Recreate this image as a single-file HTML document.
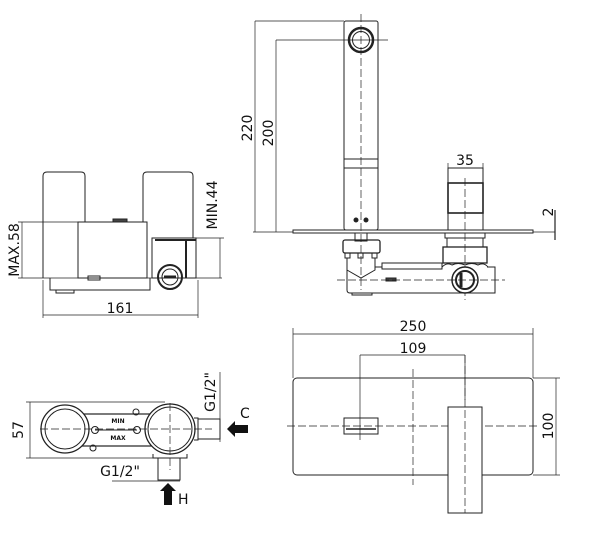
<!DOCTYPE html>
<html><head><meta charset="utf-8"><style>
html,body{margin:0;padding:0;background:#fff}
svg{display:block}
text{font-family:"DejaVu Sans","Liberation Sans",sans-serif;fill:#111}
</style></head><body>
<svg width="605" height="537" viewBox="0 0 605 537" xmlns="http://www.w3.org/2000/svg" fill="none" stroke="#222" stroke-width="1">
<!-- TOP LEFT VIEW -->
<g>
<path d="M43,278 V176 Q43,172 47,172 H81 Q85,172 85,176 V222"/>
<path d="M143,222 V176 Q143,172 147,172 H189 Q193,172 193,176 V238"/>
<rect x="78" y="222" width="69" height="56"/>
<rect x="113" y="219" width="14" height="3" fill="#444"/>
<rect x="152" y="238" width="44" height="40"/>
<line x1="155" y1="240" x2="196" y2="240" stroke-width="2"/>
<line x1="186" y1="240" x2="186" y2="278" stroke-width="2"/>
<circle cx="170" cy="277" r="12" stroke-width="2"/>
<circle cx="170" cy="277" r="8"/>
<line x1="164" y1="277" x2="176" y2="277" stroke-width="3"/>
<path d="M50,278 V290 H150 V278"/>
<rect x="56" y="290" width="18" height="3"/>
<rect x="88" y="276" width="12" height="4"/>
<line x1="18" y1="222" x2="78" y2="222" stroke-width=".7"/>
<line x1="18" y1="278" x2="222" y2="278" stroke-width=".7"/>
<line x1="22" y1="222" x2="22" y2="278" stroke-width=".7"/>
<line x1="196" y1="238" x2="224" y2="238" stroke-width=".7"/>
<line x1="220" y1="238" x2="220" y2="278" stroke-width=".7"/>
<line x1="43" y1="280" x2="43" y2="318" stroke-width=".7"/>
<line x1="198" y1="280" x2="198" y2="318" stroke-width=".7"/>
<line x1="43" y1="315" x2="198" y2="315" stroke-width=".7"/>
<text x="120" y="313" font-size="14" text-anchor="middle" stroke="none">161</text>
<text transform="translate(19,250) rotate(-90)" font-size="14" text-anchor="middle" stroke="none">MAX.58</text>
<text transform="translate(217,205) rotate(-90)" font-size="14" text-anchor="middle" stroke="none">MIN.44</text>
</g>
<!-- TOP RIGHT VIEW -->
<g>
<rect x="344" y="21" width="34" height="209" rx="2"/>
<line x1="344" y1="159" x2="378" y2="159"/>
<line x1="344" y1="168" x2="378" y2="168"/>
<circle cx="361" cy="40" r="12" stroke-width="2.5"/>
<circle cx="361" cy="40" r="8.5"/>
<circle cx="356" cy="220" r="2" fill="#222"/>
<circle cx="366" cy="220" r="2" fill="#222"/>
<line x1="361" y1="14" x2="361" y2="290" stroke-dasharray="8,3" stroke-width=".7"/>
<line x1="255" y1="21" x2="344" y2="21" stroke-width=".7"/>
<line x1="276" y1="40" x2="388" y2="40" stroke-width=".7"/>
<line x1="255" y1="21" x2="255" y2="232" stroke-width=".7"/>
<line x1="276" y1="40" x2="276" y2="232" stroke-width=".7"/>
<line x1="253" y1="232" x2="293" y2="232" stroke-width=".7"/>
<rect x="293" y="230" width="240" height="3"/>
<line x1="533" y1="232" x2="555" y2="232" stroke-width=".7"/>
<line x1="555" y1="210" x2="555" y2="240" stroke-width="1.2"/>
<text transform="translate(252,128) rotate(-90)" font-size="14" text-anchor="middle" stroke="none">220</text>
<text transform="translate(273,133) rotate(-90)" font-size="14" text-anchor="middle" stroke="none">200</text>
<text transform="translate(553,212) rotate(-90)" font-size="14" text-anchor="middle" stroke="none">2</text>
<rect x="448" y="168" width="35" height="62"/>
<rect x="448" y="183" width="35" height="30" stroke-width="1.6"/>
<line x1="448" y1="163" x2="448" y2="168" stroke-width=".7"/>
<line x1="483" y1="163" x2="483" y2="168" stroke-width=".7"/>
<line x1="448" y1="168" x2="483" y2="168" stroke-width=".7"/>
<text x="465" y="165" font-size="14" text-anchor="middle" stroke="none">35</text>
<line x1="465" y1="178" x2="465" y2="300" stroke-dasharray="8,3" stroke-width=".7"/>
<!-- under-plate parts -->
<rect x="445" y="233" width="40" height="5"/>
<rect x="443" y="247" width="44" height="16" stroke-width="1.3"/>
<line x1="447" y1="238" x2="447" y2="247"/><line x1="483" y1="238" x2="483" y2="247"/>
<rect x="355" y="233" width="12" height="8"/>
<rect x="343" y="240" width="37" height="13" rx="2" stroke-width="1.3"/>
<rect x="345" y="253" width="5" height="5"/><rect x="358" y="253" width="5" height="5"/><rect x="372" y="253" width="5" height="5"/>
<path d="M347,258 V270 L361,278 L375,270 V258"/>
<path d="M347,270 V290 Q347,293 350,293 H495 V267 H487"/>
<path d="M375,270 V267 H382"/>
<rect x="382" y="263" width="60" height="6"/>
<path d="M442,267 Q447,262 452,265 Q458,262 465,265 Q472,262 478,265 Q484,262 488,267"/>
<circle cx="465" cy="280" r="13" stroke-width="1.5" fill="#fff"/>
<circle cx="465" cy="280" r="9" stroke-width="2"/>
<line x1="461" y1="273" x2="461" y2="287" stroke-width="3"/>
<rect x="352" y="293" width="20" height="2"/>
<rect x="386" y="278" width="10" height="3" fill="#444"/>
<line x1="337" y1="280" x2="505" y2="280" stroke-dasharray="8,3" stroke-width=".7"/>
</g>
<!-- BOTTOM LEFT VIEW -->
<g>
<line x1="26" y1="402" x2="165" y2="402" stroke-width=".7"/>
<line x1="26" y1="458" x2="185" y2="458" stroke-width=".7"/>
<line x1="30" y1="402" x2="30" y2="458" stroke-width=".7"/>
<text transform="translate(23,430) rotate(-90)" font-size="14" text-anchor="middle" stroke="none">57</text>
<rect x="80" y="414" width="85" height="32" stroke-width="1.2"/>
<circle cx="65" cy="429" r="24" fill="#fff" stroke-width="1.3"/>
<circle cx="65" cy="429" r="20"/>
<circle cx="170" cy="429" r="25" fill="#fff" stroke-width="1.3"/>
<circle cx="170" cy="429" r="22"/>
<circle cx="95" cy="430" r="3.5"/><circle cx="137" cy="430" r="3.5"/>
<circle cx="136" cy="412" r="3"/><circle cx="93" cy="448" r="3"/>
<line x1="95" y1="430" x2="137" y2="430"/>
<text x="118" y="423" font-size="6" font-weight="bold" text-anchor="middle" stroke="none">MIN</text>
<text x="118" y="440" font-size="6" font-weight="bold" text-anchor="middle" stroke="none">MAX</text>
<path d="M194,418 H198 V440 H194" /><rect x="198" y="419" width="22" height="20"/>
<line x1="40" y1="429" x2="212" y2="429" stroke-dasharray="8,3" stroke-width=".7"/>
<line x1="170" y1="403" x2="170" y2="470" stroke-dasharray="8,3" stroke-width=".7"/>
<line x1="220" y1="372" x2="220" y2="442" stroke-width=".7"/>
<text transform="translate(215,392) rotate(-90)" font-size="14" text-anchor="middle" stroke="none">G1/2"</text>
<polygon points="227,429 235,421 235,425 248,425 248,433 235,433 235,437" fill="#111" stroke="none"/>
<text x="240" y="418" font-size="14" stroke="none">C</text>
<path d="M153,454 V458 H187 V454"/>
<rect x="158" y="458" width="22" height="22"/>
<line x1="112" y1="481" x2="180" y2="481" stroke-width=".7"/>
<text x="120" y="476" font-size="14" text-anchor="middle" stroke="none">G1/2"</text>
<polygon points="168,483 176,491 172,491 172,505 164,505 164,491 160,491" fill="#111" stroke="none"/>
<text x="178" y="504" font-size="14" stroke="none">H</text>
</g>
<!-- BOTTOM RIGHT VIEW -->
<g>
<line x1="293" y1="328" x2="293" y2="378" stroke-width=".7"/>
<line x1="533" y1="328" x2="533" y2="378" stroke-width=".7"/>
<line x1="293" y1="334" x2="533" y2="334" stroke-width=".7"/>
<text x="413" y="331" font-size="14" text-anchor="middle" stroke="none">250</text>
<line x1="360" y1="355" x2="465" y2="355" stroke-width=".7"/>
<text x="413" y="353" font-size="14" text-anchor="middle" stroke="none">109</text>
<rect x="293" y="378" width="240" height="97" rx="4"/>
<line x1="413" y1="369" x2="413" y2="485" stroke-dasharray="8,3" stroke-width=".7"/>
<line x1="287" y1="426" x2="540" y2="426" stroke-dasharray="8,3" stroke-width=".7"/>
<rect x="344" y="418" width="34" height="16"/>
<line x1="346" y1="429" x2="376" y2="429" stroke-width="1.5"/>
<rect x="448" y="407" width="34" height="106" fill="#fff"/>
<line x1="360" y1="355" x2="360" y2="440" stroke-width=".7"/>
<line x1="465" y1="355" x2="465" y2="513" stroke-dasharray="8,3" stroke-width=".7"/>
<line x1="465" y1="355" x2="465" y2="400" stroke-width=".7"/>
<line x1="533" y1="378" x2="560" y2="378" stroke-width=".7"/>
<line x1="533" y1="475" x2="560" y2="475" stroke-width=".7"/>
<line x1="556" y1="378" x2="556" y2="475" stroke-width=".7"/>
<text transform="translate(553,426) rotate(-90)" font-size="14" text-anchor="middle" stroke="none">100</text>
</g>
</svg>
</body></html>
